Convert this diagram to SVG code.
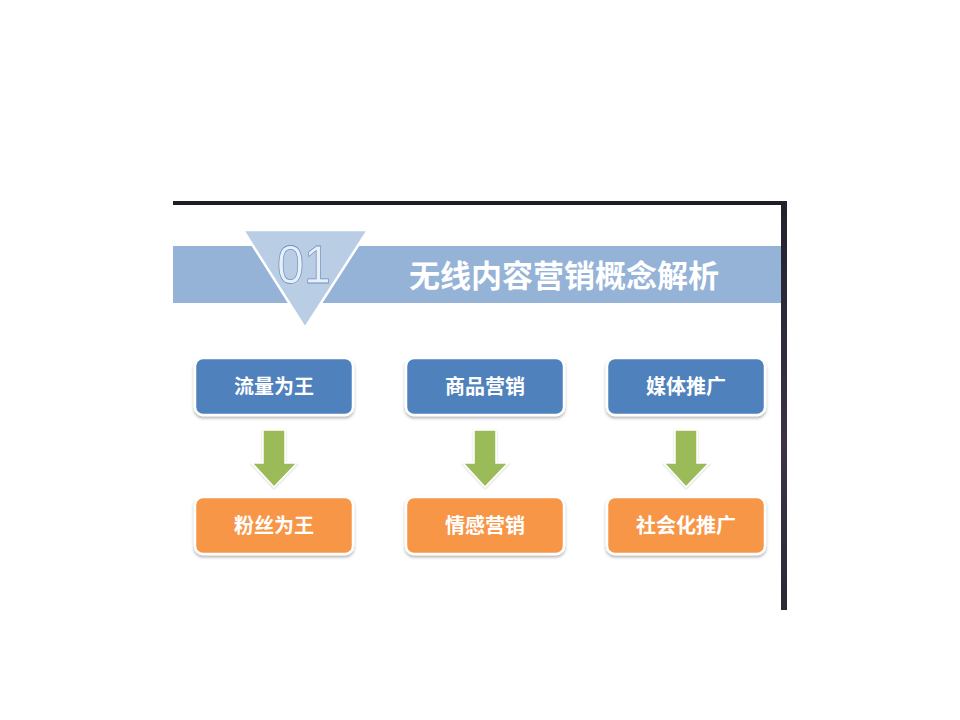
<svg xmlns="http://www.w3.org/2000/svg" width="960" height="720" viewBox="0 0 960 720">
<defs>
<style>
.box{stroke:#ffffff;stroke-width:2.5;filter:url(#sh)}
.blue{fill:#4f81bd}
.orange{fill:#f79646}
.lbl{font-family:"Noto Sans CJK SC","Noto Sans",sans-serif;font-weight:bold;font-size:20px;fill:#ffffff;text-anchor:middle}
.arr{fill:#9bbb59;stroke:#ffffff;stroke-width:1.5;filter:url(#sh2)}
</style>
<filter id="sh" x="-10%" y="-10%" width="120%" height="130%">
<feDropShadow dx="0" dy="2" stdDeviation="1.5" flood-color="#000" flood-opacity="0.3"/>
</filter>
<filter id="sh2" x="-20%" y="-20%" width="140%" height="140%">
<feDropShadow dx="0" dy="1" stdDeviation="1.2" flood-color="#000" flood-opacity="0.2"/>
</filter>
<linearGradient id="rb" x1="0" y1="0" x2="0" y2="1">
<stop offset="0" stop-color="#22222e"/>
<stop offset="0.6" stop-color="#3d3248"/>
<stop offset="1" stop-color="#2a2a36"/>
</linearGradient>
</defs>
<rect width="960" height="720" fill="#ffffff"/>
<g id="frame">
<rect x="173" y="201" width="612" height="4" fill="#1e1e28"/>
<rect x="781" y="201" width="6" height="409" fill="url(#rb)"/>
</g>
<g id="banner">
<rect x="173" y="246" width="608" height="57" fill="#95b3d7"/>
<polygon points="243,230 368,230 305,328" fill="#b9cde5" stroke="#ffffff" stroke-width="2.5"/>
<text x="277" y="283" font-family="Liberation Sans,sans-serif" font-size="54" fill="#e8eff8" stroke="#6f92c2" stroke-width="0.8" textLength="54" lengthAdjust="spacingAndGlyphs">01</text>
<text x="564" y="287" font-family="Noto Sans CJK SC,sans-serif" font-weight="bold" font-size="31" fill="#ffffff" text-anchor="middle">无线内容营销概念解析</text>
</g>
<g id="connectors">
<polygon class="arr" points="263,430 285,430 285,463 297,463 274,487 252,463 263,463"/>
<polygon class="arr" points="474,430 496,430 496,463 508,463 485,487 463,463 474,463"/>
<polygon class="arr" points="675,430 697,430 697,463 709,463 686,487 664,463 675,463"/>
</g>
<g id="n1"><rect class="box blue" x="195" y="358" width="158" height="57" rx="8"/><text class="lbl" x="274" y="394">流量为王</text></g>
<g id="n2"><rect class="box blue" x="406" y="358" width="158" height="57" rx="8"/><text class="lbl" x="485" y="394">商品营销</text></g>
<g id="n3"><rect class="box blue" x="607" y="358" width="158" height="57" rx="8"/><text class="lbl" x="686" y="394">媒体推广</text></g>
<g id="n4"><rect class="box orange" x="195" y="497" width="158" height="57" rx="8"/><text class="lbl" x="274" y="533">粉丝为王</text></g>
<g id="n5"><rect class="box orange" x="406" y="497" width="158" height="57" rx="8"/><text class="lbl" x="485" y="533">情感营销</text></g>
<g id="n6"><rect class="box orange" x="607" y="497" width="158" height="57" rx="8"/><text class="lbl" x="686" y="533">社会化推广</text></g>
</svg>
